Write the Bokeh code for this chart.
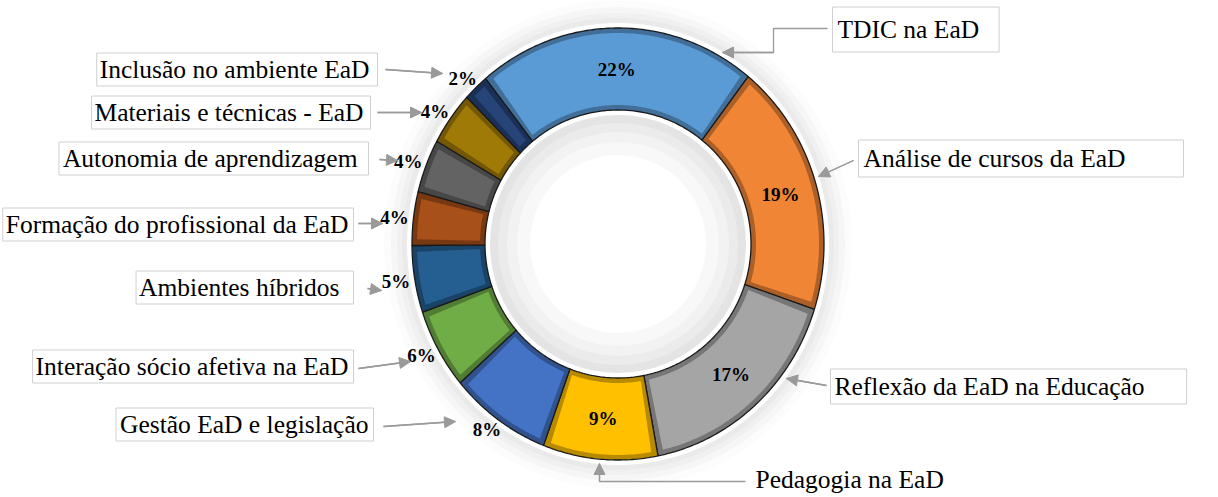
import numpy as np
from bokeh.plotting import figure
from bokeh.models import Label, Arrow, NormalHead, ColumnDataSource, Range1d
from bokeh.embed import file_html
from bokeh.resources import INLINE
from bokeh.core.properties import value

# ---------------- data ----------------
categories = [
    "TDIC na EaD",
    "Análise de cursos da EaD",
    "Reflexão da EaD na Educação",
    "Pedagogia na EaD",
    "Gestão EaD e legislação",
    "Interação sócio afetiva na EaD",
    "Ambientes híbridos",
    "Formação do profissional da EaD",
    "Autonomia de aprendizagem",
    "Materiais e técnicas - EaD",
    "Inclusão no ambiente EaD",
]
percentages = [22, 19, 17, 9, 8, 6, 5, 4, 4, 4, 2]
slice_colors = ["#5B9BD5", "#F08535", "#A5A5A5", "#FFC000", "#4472C4", "#70AD47",
                "#255E91", "#A8501A", "#636363", "#A07A06", "#264478"]

# ---------------- layout ----------------
W, H = 1218, 497
FONT_NAME = "Liberation Serif"
FONT = value(FONT_NAME)


def px(x, y):
    """reference-pixel position -> plot coordinates"""
    return x, H - y


cx, cy = px(617.5, 243.5)
rx_out, ry_out = 206, 216
rx_in, ry_in = 133, 134
start_deg = -40.0  # clockwise from 12 o'clock

p = figure(width=W, height=H, x_range=Range1d(0, W), y_range=Range1d(0, H),
           x_axis_type=None, y_axis_type=None, output_backend="svg",
           toolbar_location=None, min_border=0)
p.grid.visible = False
p.outline_line_color = None
p.background_fill_color = "white"
p.border_fill_color = "white"

# soft glow around the ring (outer) and inside the hole
halo_d = [28, 21, 15, 10, 5]
halo_c = ["#FCFCFC", "#F6F6F6", "#F0F0F0", "#EAEAEA", "#FFFFFF"]
p.ellipse(x=[cx] * len(halo_d), y=[cy] * len(halo_d),
          width=[2 * (rx_out + d) for d in halo_d],
          height=[2 * (ry_out + d) for d in halo_d],
          fill_color=halo_c, line_color=None)
inner_d = [-3, 5, 13, 22, 32, 45]
inner_c = ["#FFFFFF", "#E4E4E4", "#EBEBEB", "#F2F2F2", "#F8F8F8", "#FFFFFF"]
p.ellipse(x=[cx] * len(inner_d), y=[cy] * len(inner_d),
          width=[2 * (rx_in - d) for d in inner_d],
          height=[2 * (ry_in - d) for d in inner_d],
          fill_color=inner_c, line_color=None)

vals = np.array(percentages, dtype=float)
edges = np.deg2rad(start_deg) + 2 * np.pi * np.concatenate([[0.0], np.cumsum(vals) / vals.sum()])
mids = (edges[:-1] + edges[1:]) / 2


def ring_patch(a0, a1, rxo, ryo, rxi, ryi):
    n = max(8, int(np.degrees(a1 - a0) * 1.5) + 2)
    t = np.linspace(a0, a1, n)
    xo = cx + rxo * np.sin(t)
    yo = cy + ryo * np.cos(t)
    xi = cx + rxi * np.sin(t[::-1])
    yi = cy + ryi * np.cos(t[::-1])
    return np.concatenate([xo, xi]).tolist(), np.concatenate([yo, yi]).tolist()


def shade(hexcol, f):
    r, g, b = (int(hexcol[i:i + 2], 16) for i in (1, 3, 5))
    return "#%02x%02x%02x" % (int(r * f), int(g * f), int(b * f))


xs_o, ys_o, xs_i, ys_i = [], [], [], []
inset = 5.0
for a0, a1 in zip(edges[:-1], edges[1:]):
    x, y = ring_patch(a0, a1, rx_out, ry_out, rx_in, ry_in)
    xs_o.append(x)
    ys_o.append(y)
    da = inset / ((rx_out + rx_in) / 2)
    x, y = ring_patch(a0 + da, a1 - da, rx_out - inset, ry_out - inset,
                      rx_in + inset, ry_in + inset)
    xs_i.append(x)
    ys_i.append(y)

p.patches(xs_o, ys_o, fill_color=[shade(c, 0.72) for c in slice_colors],
          line_color="#1A1A1A", line_width=1.3)
p.patches(xs_i, ys_i, fill_color=slice_colors, line_color=None)

# percentage labels
inside = vals >= 9
rxl = np.where(inside, (rx_out + rx_in) / 2, rx_out + 19)
ryl = np.where(inside, (ry_out + ry_in) / 2, ry_out + 12)
pct_src = ColumnDataSource(dict(
    x=cx + rxl * np.sin(mids),
    y=cy + ryl * np.cos(mids),
    text=["%d%%" % v for v in percentages],
))
p.text(x="x", y="y", text="text", source=pct_src, text_font=FONT,
       text_font_style="bold", text_font_size="19px", text_color="#000000",
       text_align="center", text_baseline="middle")

# category labels (reference-pixel anchor, alignment, box padding)
label_layout = [
    (832, 29, "left", dict(left=5, right=20, top=8, bottom=8)),
    (858, 158, "left", dict(left=5, right=58, top=4, bottom=4)),
    (830, 386, "left", dict(left=4, right=42, top=3, bottom=3)),
    (755, 479, "left", None),
    (373, 424, "right", dict(left=4, right=5, top=2, bottom=2)),
    (353, 366, "right", dict(left=3, right=5, top=2, bottom=2)),
    (353, 287, "right", dict(left=3, right=14, top=2, bottom=2)),
    (353, 224, "right", dict(left=3, right=5, top=2, bottom=2)),
    (368, 158, "right", dict(left=4, right=11, top=2, bottom=2)),
    (370, 112, "right", dict(left=3, right=7, top=2, bottom=2)),
    (377, 69, "right", dict(left=3, right=8, top=2, bottom=2)),
]
for cat, (lx, ly, al, pad) in zip(categories, label_layout):
    x, y = px(lx, ly)
    kw = dict(x=x, y=y, text=cat, text_font=FONT_NAME, text_font_size="25.5px",
              text_color="#000000", text_align=al, text_baseline="middle")
    if pad is not None:
        kw.update(border_line_color="#D0D0D0", border_line_width=1,
                  background_fill_color="white", padding=pad)
    p.add_layout(Label(**kw))

# leader lines with arrow heads (reference pixels)
leaders = [
    [(827, 28), (773, 28), (773, 52), (722, 52)],
    [(853, 160), (818, 176)],
    [(826, 385), (786, 378)],
    [(745, 481), (599, 481), (599, 463)],
    [(383, 426), (455, 421)],
    [(358, 368), (410, 361)],
    [(367, 288), (381, 290)],
    [(358, 223), (382, 223)],
    [(379, 159), (397, 160)],
    [(377, 112), (421, 112)],
    [(385, 69), (442, 73)],
]
LC = "#9A9A9A"
lx_all, ly_all = [], []
for pts in leaders:
    conv = [px(a, b) for a, b in pts]
    lx_all.append([c[0] for c in conv])
    ly_all.append([c[1] for c in conv])
    (x0, y0), (x1, y1) = conv[-2], conv[-1]
    p.add_layout(Arrow(end=NormalHead(size=11, fill_color=LC, line_color=LC),
                       x_start=x0, y_start=y0, x_end=x1, y_end=y1,
                       line_color=LC, line_width=1.3))
p.multi_line(lx_all, ly_all, line_color=LC, line_width=1.3)

open("out.html", "w").write(file_html(p, INLINE))
